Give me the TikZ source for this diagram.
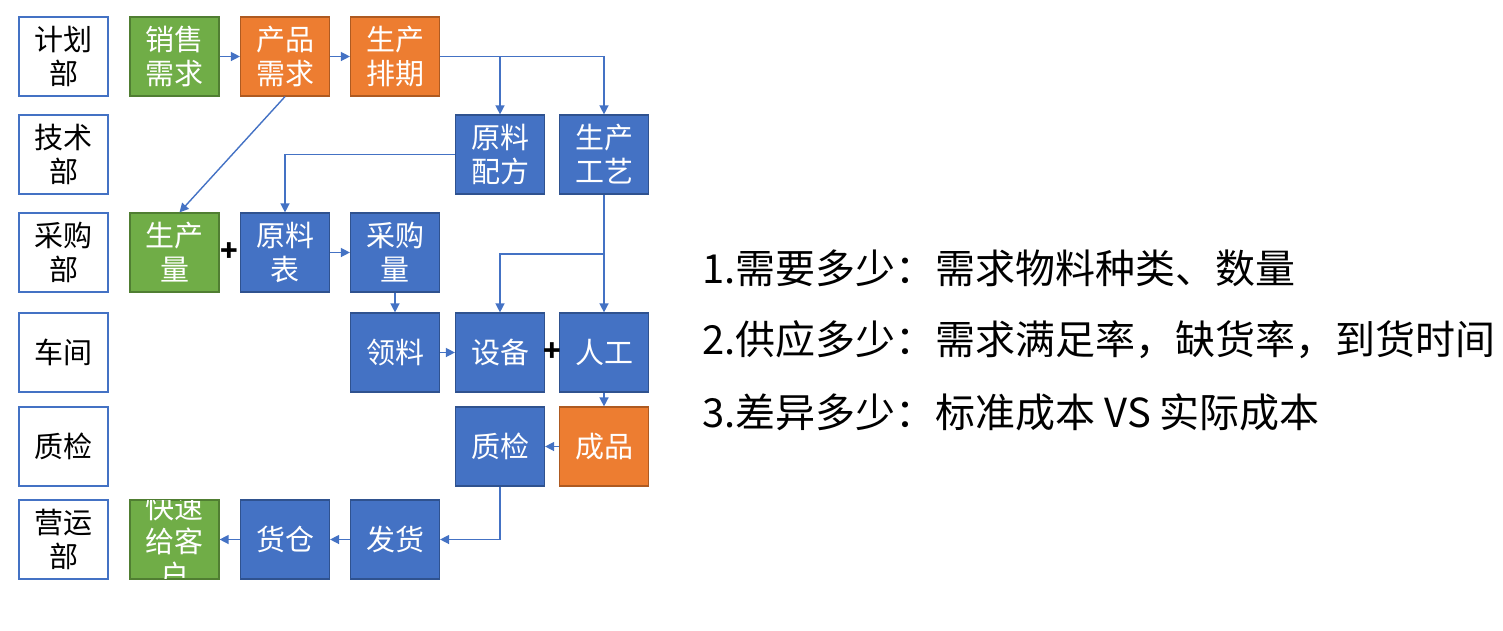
\documentclass[tikz,border=0pt]{standalone}
\usepackage{fontspec}
\setmainfont{Noto Sans CJK SC}
\usetikzlibrary{arrows.meta}
\definecolor{gfill}{HTML}{70AD47}
\definecolor{gdraw}{HTML}{507E32}
\definecolor{ofill}{HTML}{ED7D31}
\definecolor{odraw}{HTML}{AE5A21}
\definecolor{bfill}{HTML}{4472C4}
\definecolor{bdraw}{HTML}{2F528F}
\definecolor{lline}{HTML}{4472C4}
\tikzset{
  boxbase/.style={minimum width=89pt, minimum height=79pt, inner sep=0pt, align=center,
    font=\fontsize{29}{34}\selectfont, line width=1.2pt},
  dept/.style={boxbase, draw=lline, fill=white, text=black, line width=1.6pt},
  gbox/.style={boxbase, draw=gdraw, fill=gfill, text=white},
  obox/.style={boxbase, draw=odraw, fill=ofill, text=white},
  bbox/.style={boxbase, draw=bdraw, fill=bfill, text=white},
  flow/.style={draw=lline, line width=1.4pt, -{Triangle[length=9pt,width=9pt]}},
  plus/.style={font=\fontsize{29}{29}\selectfont\bfseries, text=black, inner sep=0pt},
  note/.style={anchor=west, font=\fontsize{40}{40}\selectfont, text=black, inner sep=0pt}
}
\begin{document}
\begin{tikzpicture}[x=1pt, y=-1pt]
\useasboundingbox (0,0) rectangle (1503,630);
% department column
\node[dept] (d1) at (63.5,56.5) {计划\\部};
\node[dept] (d2) at (63.5,154.5) {技术\\部};
\node[dept] (d3) at (63.5,252.5) {采购\\部};
\node[dept] (d4) at (63.5,352.5) {车间};
\node[dept] (d5) at (63.5,446.5) {质检};
\node[dept] (d6) at (63.5,539.5) {营运\\部};
% row 1
\node[gbox] (xs) at (174.5,56.5) {销售\\需求};
\node[obox] (cp) at (285,56.5) {产品\\需求};
\node[obox] (pq) at (395,56.5) {生产\\排期};
% row 2
\node[bbox] (pf) at (500,154.5) {原料\\配方};
\node[bbox] (gy) at (604,154.5) {生产\\工艺};
% row 3
\node[gbox] (scl) at (174.5,252.5) {生产\\量};
\node[bbox] (ylb) at (285,252.5) {原料\\表};
\node[bbox] (cgl) at (395,252.5) {采购\\量};
% row 4
\node[bbox] (ll) at (395,352.5) {领料};
\node[bbox] (sb) at (500,352.5) {设备};
\node[bbox] (rg) at (604,352.5) {人工};
% row 5
\node[bbox] (zj) at (500,446.5) {质检};
\node[obox] (cp2) at (604,446.5) {成品};
% row 6
\node[bbox] (fh) at (395,539.5) {发货};
\node[bbox] (hc) at (285,539.5) {货仓};
\node[gbox, text opacity=0] (kd) at (174.5,539.5) {};
\begin{scope}
  \clip (130,500) rectangle (219,579);
  \node[font=\fontsize{29}{34}\selectfont, text=white, align=center, inner sep=0pt] (kdt) at (174.5,542) {快速\\给客\\户};
\end{scope}
\draw[gdraw, line width=1.2pt] (kd.north west) rectangle (kd.south east);
% plus signs
\node[plus] (p1) at (229.5,252.5) {+};
\node[plus] (p2) at (552,352.5) {+};
% connectors
\coordinate (j1) at (604,254);
\draw[flow] (xs.east) -- (cp.west);
\draw[flow] (cp.east) -- (pq.west);
\draw[flow] (pq.east) -| (pf.north);
\draw[flow] (pq.east) -| (gy.north);
\draw[flow] (cp.south) -- ([xshift=5pt]scl.north);
\draw[flow] (pf.west) -| (ylb.north);
\draw[flow] (gy.south) -- (rg.north);
\draw[flow] (j1) -| (sb.north);
\draw[flow] (ylb.east) -- (cgl.west);
\draw[flow] (cgl.south) -- (ll.north);
\draw[flow] (ll.east) -- (sb.west);
\draw[flow] (rg.south) -- (cp2.north);
\draw[flow] (cp2.west) -- (zj.east);
\draw[flow] (zj.south) |- (fh.east);
\draw[flow] (fh.west) -- (hc.east);
\draw[flow] (hc.west) -- (kd.east);
% notes
\node[note] (n1) at (702,268) {1.需要多少：需求物料种类、数量};
\node[note] (n2) at (702,340) {2.供应多少：需求满足率，缺货率，到货时间};
\node[note] (n3) at (702,412) {3.差异多少：标准成本 VS 实际成本};
\end{tikzpicture}
\end{document}
